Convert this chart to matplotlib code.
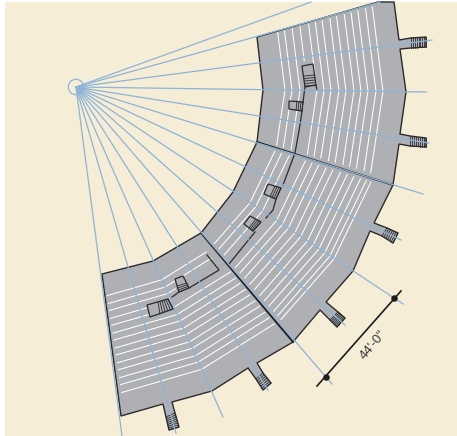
import numpy as np
import matplotlib
matplotlib.use('Agg')
import matplotlib.pyplot as plt
from matplotlib.patches import Polygon, Circle, Rectangle

BEIGE = '#f5edd6'
GRAY = '#aeb0b4'
DARK = '#2b2b2d'
BLUE = '#8db4d8'

center = (76, 87)

ray_ends = [(311, 2), (380, 2), (432, 40), (426, 92), (429, 143), (423, 194), (401, 240),
            (403, 304), (345, 325), (332, 384), (268, 390), (223, 417), (176, 433), (122, 436)]

outline = [(257, 37), (378, 2), (394, 2), (399, 40), (411, 38), (426, 37), (426, 47), (411, 48),
           (400, 49), (406, 92), (400, 134), (410, 136), (426, 138), (426, 147), (410, 146),
           (399, 144), (393, 185), (374, 223), (387, 228), (398, 233), (393, 243), (382, 236),
           (370, 231), (353, 271), (326, 302), (338, 312), (345, 318), (337, 327), (330, 320),
           (320, 310), (293, 342), (257, 363), (263, 373), (271, 383), (263, 390), (256, 379),
           (248, 368), (212, 391), (172, 402), (175, 413), (179, 427), (169, 430), (166, 417),
           (163, 404), (121, 416), (102, 274), (153, 261), (201, 233), (233, 192), (257, 142),
           (263, 90)]

dividers = [[(257, 142), (393, 185)], [(201, 233), (293, 342)]]

# seat rows: radius from the center, angle of the three bends, where a row starts on its first chord
upper_radii = [209, 216, 224, 232, 241, 248, 255, 263, 270, 278, 285, 292, 300, 307]
upper_angles = [-15.2, 0.8, 16.3]
upper_stop = [1, 1, 1, 0.55, 1, 1, 1, 1, 1, 1, 1, 1, 1, 1]

mid_radii = [209, 216, 224, 241, 248, 255, 263, 270, 278, 285, 292, 299, 305, 310]
mid_angles = [17.8, 33.7, 48.7]

lower_radii = [211, 219, 226, 234, 241, 249, 256, 264, 271, 279, 286, 294, 301, 309]
lower_angles = [50.0, 66.0, 81.6]
lower_start = [0.1, 0.1, 0.85, 1, 0, 0, 0, 0, 0, 0, 0, 0, 0, 0]

# aisle lines and the landings that sit on them
aisle_lines = [[(316, 85), (317, 90)],
               [(305, 87), (303, 102)],
               [(302, 111), (300, 125), (295, 153), (283, 185)],
               [(276, 199), (273, 210), (266, 218)],
               [(255, 232), (229, 264)],
               [(179, 292), (172, 297)],
               [(189, 288), (219, 270), (207, 255)]]

landings = [[(302, 66), (313, 64), (316, 85), (305, 87)],
            [(289, 101), (303, 102), (302, 111), (289, 109)],
            [(268, 184), (281, 188), (276, 199), (264, 194)],
            [(250, 216), (261, 222), (253, 231), (244, 224)],
            [(175, 279), (183, 276), (189, 288), (179, 292)],
            [(147, 305), (168, 299), (173, 309), (150, 317)]]

# stair flights: one side from-to, other side from-to, number of treads
stairs = [((411, 37), (426, 37), (411, 48), (426, 47), 9),
          ((410, 136), (426, 138), (410, 146), (426, 147), 9),
          ((387, 228), (398, 233), (382, 236), (393, 243), 7),
          ((338, 312), (345, 318), (330, 320), (337, 327), 7),
          ((263, 373), (271, 383), (256, 379), (263, 390), 7),
          ((175, 413), (179, 427), (166, 417), (169, 430), 8),
          ((304, 76), (305, 86), (315, 75), (316, 85), 5),
          ((297, 101), (303, 102), (296, 110), (302, 111), 4),
          ((275, 186), (281, 188), (270, 197), (276, 199), 4),
          ((256, 219), (261, 222), (249, 228), (253, 231), 4),
          ((177, 286), (179, 292), (187, 283), (189, 288), 4),
          ((158, 302), (168, 299), (160, 314), (173, 309), 6)]

dim_line = [(317, 386), (401, 291)]
dim_dots = [(326, 377), (394, 298)]
dim_text = '44\'-0"'


def polar(r, deg):
    a = np.radians(deg)
    return np.array([center[0] + r * np.cos(a), center[1] + r * np.sin(a)])


def draw_line(ax, pts, **kw):
    ax.plot([p[0] for p in pts], [p[1] for p in pts], **kw)


fig = plt.figure(figsize=(4.57, 4.36), dpi=100, facecolor='white')
ax = fig.add_axes([0, 0, 1, 1])
ax.set_xlim(0, 457)
ax.set_ylim(436, 0)
ax.axis('off')

ax.add_patch(Rectangle((5, 2), 452, 434, fc=BEIGE, ec='none', zorder=0))
ax.add_patch(Polygon(outline, closed=True, fc=GRAY, ec=DARK, lw=1.0, joinstyle='miter', zorder=1))

row_style = dict(color='white', lw=0.75, zorder=2, solid_capstyle='butt')

for r, stop in zip(upper_radii, upper_stop):
    a, b, c = [polar(r, d) for d in upper_angles]
    if stop < 1:
        draw_line(ax, [a, a + (b - a) * stop], **row_style)
    else:
        draw_line(ax, [a, b, c], **row_style)

for r in mid_radii:
    draw_line(ax, [polar(r, d) for d in mid_angles], **row_style)

for r, start in zip(lower_radii, lower_start):
    a, b, c = [polar(r, d) for d in lower_angles]
    if start >= 1:
        draw_line(ax, [b, c], **row_style)
    else:
        draw_line(ax, [a + (b - a) * start, b, c], **row_style)

for box in landings:
    ax.add_patch(Polygon(box, closed=True, fc=GRAY, ec=DARK, lw=0.9, zorder=3))

for line in aisle_lines:
    draw_line(ax, line, color=DARK, lw=0.9, zorder=3)

for p0, p1, q0, q1, n in stairs:
    p0, p1, q0, q1 = [np.array(v, dtype=float) for v in (p0, p1, q0, q1)]
    for t in np.linspace(0, 1, n):
        draw_line(ax, [p0 + (p1 - p0) * t, q0 + (q1 - q0) * t], color=DARK, lw=0.6, zorder=3)

for line in dividers:
    draw_line(ax, line, color='#1d1d1f', lw=1.3, zorder=4)

for end in ray_ends:
    draw_line(ax, [center, end], color=BLUE, lw=0.9, zorder=5)
ax.add_patch(Circle(center, 7.7, fc='none', ec=BLUE, lw=0.9, zorder=5))

draw_line(ax, dim_line, color='#1d1d1f', lw=1.2, zorder=6)
ax.scatter([p[0] for p in dim_dots], [p[1] for p in dim_dots], s=22, color='#1d1d1f', zorder=7, linewidths=0)
ax.text(373, 345, dim_text, rotation=50, rotation_mode='anchor', ha='center', va='center',
        fontsize=9.5, color='#3a3a3c', family=['Liberation Sans Narrow', 'Liberation Sans', 'DejaVu Sans'])

fig.savefig('out.png', dpi=100)
